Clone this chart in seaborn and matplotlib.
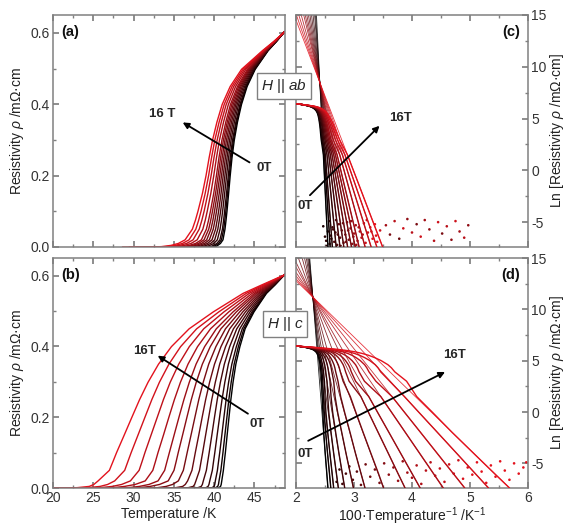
import numpy as np
import pandas as pd
import matplotlib
matplotlib.use("Agg")
import matplotlib.pyplot as plt
from matplotlib.ticker import MultipleLocator, FormatStrFormatter
import seaborn as sns

# magnetic fields (T), one curve each
FIELDS = [0, 0.5, 1, 2, 3, 4, 5, 6, 7, 8, 10, 12, 14, 16]
# ln(rho / uOhm cm) levels at which the temperatures below were read off
# (rho = 0.62, 0.60, 0.575, 0.55, 0.50, 0.45, 0.40, 0.35, 0.30, 0.25, 0.20, 0.15,
#  0.10, 0.075, 0.05, 0.02, 0.01 mOhm cm, then the log tail)
LN_LEVELS = [6.43, 6.40, 6.354, 6.31, 6.21, 6.109, 5.99, 5.858, 5.70, 5.521, 5.30, 5.011,
             4.61, 4.317, 3.91, 3.00, 2.30, 1.50, 0.00, -2.00, -4.00, -6.00, -7.40]

# H || ab : temperature (K) at each level, one row per field
T_AB = [
    [50.0, 48.7, 47.70, 46.70, 45.10, 44.10, 43.40, 42.90, 42.50, 42.22, 42.00, 41.80, 41.60, 41.48, 41.35, 41.10, 40.79, 40.45, 40.23, 39.95, 39.67, 39.39, 39.20],
    [50.0, 48.7, 47.69, 46.67, 45.03, 44.02, 43.30, 42.80, 42.39, 42.11, 41.88, 41.67, 41.46, 41.33, 41.19, 40.91, 40.57, 40.18, 39.91, 39.55, 39.20, 38.86, 38.62],
    [50.0, 48.7, 47.67, 46.64, 44.96, 43.93, 43.21, 42.70, 42.28, 41.99, 41.76, 41.54, 41.31, 41.18, 41.03, 40.72, 40.34, 39.91, 39.59, 39.17, 38.75, 38.35, 38.07],
    [50.0, 48.7, 47.65, 46.60, 44.85, 43.79, 43.04, 42.52, 42.10, 41.79, 41.55, 41.31, 41.06, 40.91, 40.74, 40.40, 39.96, 39.46, 39.05, 38.51, 37.99, 37.48, 37.14],
    [50.0, 48.7, 47.62, 46.55, 44.73, 43.64, 42.87, 42.34, 41.91, 41.60, 41.34, 41.09, 40.81, 40.64, 40.46, 40.07, 39.57, 39.01, 38.51, 37.87, 37.26, 36.66, 36.25],
    [50.0, 48.7, 47.60, 46.50, 44.61, 43.49, 42.70, 42.16, 41.72, 41.40, 41.13, 40.86, 40.56, 40.38, 40.18, 39.74, 39.18, 38.57, 38.00, 37.26, 36.55, 35.87, 35.40],
    [50.0, 48.7, 47.57, 46.45, 44.49, 43.34, 42.54, 41.98, 41.53, 41.20, 40.92, 40.63, 40.30, 40.11, 39.89, 39.41, 38.81, 38.15, 37.50, 36.67, 35.87, 35.11, 34.60],
    [50.0, 48.7, 47.55, 46.40, 44.37, 43.20, 42.37, 41.80, 41.34, 41.00, 40.71, 40.40, 40.05, 39.85, 39.61, 39.08, 38.44, 37.73, 37.01, 36.09, 35.22, 34.38, 33.82],
    [50.0, 48.7, 47.53, 46.35, 44.25, 43.05, 42.20, 41.63, 41.15, 40.80, 40.50, 40.18, 39.80, 39.58, 39.33, 38.75, 38.07, 37.32, 36.53, 35.53, 34.58, 33.69, 33.09],
    [50.0, 48.7, 47.50, 46.30, 44.13, 42.90, 42.03, 41.45, 40.96, 40.60, 40.29, 39.95, 39.55, 39.31, 39.04, 38.42, 37.70, 36.92, 36.07, 34.99, 33.98, 33.02, 32.38],
    [50.0, 48.7, 47.46, 46.22, 43.94, 42.67, 41.77, 41.17, 40.66, 40.29, 39.96, 39.59, 39.15, 38.90, 38.60, 37.90, 37.14, 36.31, 35.36, 34.17, 33.06, 32.02, 31.33],
    [50.0, 48.7, 47.42, 46.15, 43.76, 42.44, 41.50, 40.89, 40.37, 39.98, 39.63, 39.23, 38.76, 38.48, 38.15, 37.39, 36.59, 35.71, 34.68, 33.39, 32.19, 31.08, 30.34],
    [50.0, 48.7, 47.39, 46.07, 43.58, 42.22, 41.25, 40.62, 40.08, 39.68, 39.32, 38.89, 38.38, 38.08, 37.73, 36.89, 36.07, 35.17, 34.06, 32.68, 31.41, 30.23, 29.46],
    [50.0, 48.7, 47.35, 46.00, 43.40, 42.00, 41.00, 40.35, 39.80, 39.38, 39.00, 38.55, 38.00, 37.68, 37.30, 36.40, 35.56, 34.64, 33.45, 31.99, 30.66, 29.43, 28.62],
]

# H || c
T_C = [
    [50.0, 48.7, 47.60, 46.50, 44.95, 43.85, 43.20, 42.70, 42.35, 42.08, 41.85, 41.62, 41.40, 41.27, 41.15, 40.95, 40.88, 40.80, 40.60, 40.35, 39.95, 39.50, 39.20],
    [50.0, 48.7, 47.56, 46.44, 44.84, 43.70, 43.01, 42.49, 42.12, 41.83, 41.59, 41.34, 41.10, 40.97, 40.84, 40.61, 40.54, 40.45, 40.20, 39.80, 39.32, 38.80, 38.46],
    [50.0, 48.7, 47.52, 46.35, 44.69, 43.49, 42.76, 42.20, 41.80, 41.49, 41.22, 40.96, 40.70, 40.55, 40.41, 40.15, 40.08, 40.00, 39.75, 39.25, 38.70, 38.12, 37.74],
    [50.0, 48.7, 47.45, 46.22, 44.46, 43.18, 42.38, 41.77, 41.33, 40.98, 40.68, 40.38, 40.09, 39.93, 39.78, 39.46, 39.36, 39.25, 39.00, 38.40, 37.75, 37.08, 36.63],
    [50.0, 48.7, 47.36, 46.07, 44.20, 42.81, 41.93, 41.27, 40.78, 40.39, 40.05, 39.72, 39.39, 39.21, 39.04, 38.66, 38.54, 38.40, 38.00, 37.25, 36.50, 35.73, 35.21],
    [50.0, 48.7, 47.27, 45.89, 43.89, 42.40, 41.42, 40.69, 40.15, 39.71, 39.33, 38.95, 38.58, 38.38, 38.19, 37.74, 37.58, 37.40, 36.80, 35.85, 34.95, 34.05, 33.44],
    [50.0, 48.7, 47.16, 45.70, 43.56, 41.93, 40.85, 40.05, 39.44, 38.95, 38.52, 38.10, 37.67, 37.46, 37.25, 36.71, 36.42, 36.10, 35.25, 34.10, 33.07, 32.04, 31.35],
    [50.0, 48.7, 47.04, 45.48, 43.18, 41.41, 40.22, 39.33, 38.65, 38.10, 37.62, 37.14, 36.66, 36.42, 36.18, 35.56, 34.84, 34.05, 33.00, 31.66, 30.40, 29.22, 28.49],
    [50.0, 48.7, 46.91, 45.24, 42.76, 40.84, 39.52, 38.54, 37.78, 37.17, 36.63, 36.09, 35.55, 35.29, 35.02, 34.30, 33.22, 32.06, 30.80, 29.26, 27.86, 26.60, 25.77],
    [50.0, 48.7, 46.78, 45.01, 42.35, 40.27, 38.82, 37.76, 36.92, 36.25, 35.64, 35.04, 34.45, 34.15, 33.86, 33.04, 31.91, 30.72, 29.38, 27.75, 26.30, 24.99, 24.15],
    [50.0, 48.7, 46.61, 44.71, 41.82, 39.55, 37.94, 36.76, 35.82, 35.07, 34.39, 33.72, 33.04, 32.72, 32.39, 31.45, 30.20, 28.88, 27.44, 25.73, 24.22, 22.88, 22.03],
    [50.0, 48.7, 46.42, 44.36, 41.22, 38.71, 36.92, 35.61, 34.55, 33.71, 32.95, 32.18, 31.42, 31.06, 30.69, 29.61, 28.51, 27.35, 25.86, 24.10, 22.57, 21.22, 20.37],
    [50.0, 48.7, 46.21, 43.99, 40.58, 37.83, 35.84, 34.39, 33.21, 32.27, 31.42, 30.56, 29.71, 29.30, 28.90, 27.66, 26.78, 25.84, 24.31, 22.52, 20.98, 19.64, 18.80],
    [50.0, 48.7, 46.00, 43.60, 39.90, 36.90, 34.70, 33.10, 31.80, 30.75, 29.80, 28.85, 27.90, 27.45, 27.00, 25.60, 25.07, 24.50, 23.00, 21.30, 19.77, 18.44, 17.60],
]

# Arrhenius fit lines: common crossing point and x where each line hits the bottom (ln = -7.4)
FIT_PIVOT_AB = (2.41, 8.5)
FIT_XEND_AB = [2.551, 2.589, 2.627, 2.693, 2.759, 2.825, 2.890, 2.957, 3.022, 3.088, 3.192, 3.296, 3.395, 3.494]
FIT_PIVOT_C = (2.29, 11.2)
FIT_XEND_C = [2.55, 2.60, 2.65, 2.73, 2.84, 2.99, 3.19, 3.51, 3.88, 4.14, 4.54, 4.91, 5.32, 5.68]
FIT_YBOT = -7.4

# noise floor points (100/T, ln rho, shade 0=black..1=red)
NOISE_AB_X = [2.52, 2.55, 2.58, 2.60, 2.63, 2.66, 2.68, 2.71, 2.74, 2.76, 2.79, 2.82, 2.85, 2.88, 2.91,
              2.94, 2.97, 3.00, 3.03, 3.06, 3.10, 3.13, 3.17, 3.20, 3.24, 3.28, 3.32, 3.36, 3.40, 3.45,
              3.55, 3.62, 3.70, 3.78, 3.85, 3.92, 4.00, 4.08, 4.15, 4.22, 4.30, 4.38, 4.45, 4.52, 4.60,
              4.68, 4.75, 4.82, 4.90, 4.97,
              2.47, 2.50, 2.53, 2.57, 2.61, 2.64, 2.69, 2.72, 2.77, 2.81, 2.86, 2.90, 2.95, 2.99, 3.04,
              3.08, 3.15, 3.22, 3.30, 3.38]
NOISE_AB_Y = [-6.8, -5.9, -7.1, -6.3, -5.5, -6.9, -6.0, -7.2, -5.2, -6.5, -5.8, -7.0, -6.2, -5.0, -6.7,
              -5.6, -7.1, -6.1, -5.3, -6.8, -5.9, -6.5, -5.1, -7.0, -6.0, -5.5, -6.6, -5.2, -6.9, -5.8,
              -5.3, -6.2, -4.9, -6.6, -5.6, -4.7, -6.0, -5.2, -6.4, -4.8, -5.7, -6.8, -5.0, -6.1, -5.4,
              -6.7, -4.9, -5.9, -6.5, -5.3,
              -5.4, -6.4, -7.3, -4.9, -6.6, -5.7, -4.8, -6.2, -7.3, -5.1, -6.9, -5.8, -4.9, -6.4, -7.2,
              -5.5, -6.2, -4.8, -5.9, -6.3]
NOISE_AB_S = [0.1, 0.1, 0.2, 0.15, 0.2, 0.3, 0.25, 0.3, 0.4, 0.35, 0.45, 0.4, 0.5, 0.55, 0.5,
              0.6, 0.6, 0.7, 0.7, 0.75, 0.8, 0.8, 0.85, 0.9, 0.9, 0.95, 1.0, 1.0, 1.0, 0.9,
              0.7, 0.5, 0.8, 0.4, 0.9, 0.6, 0.8, 0.5, 0.9, 0.7, 0.6, 0.8, 0.9, 0.5, 0.8,
              0.6, 0.9, 0.7, 0.8, 0.6,
              0.0, 0.05, 0.1, 0.15, 0.2, 0.25, 0.3, 0.35, 0.4, 0.45, 0.5, 0.55, 0.6, 0.65, 0.7,
              0.75, 0.8, 0.85, 0.9, 0.95]
NOISE_C_X = [2.70, 2.75, 2.80, 2.86, 2.92, 2.98, 3.05, 3.12, 3.20, 3.28, 3.36, 3.44, 3.52, 3.60, 3.68,
             3.76, 3.84, 3.92, 4.00, 4.08, 4.16, 4.24, 4.32, 4.40, 4.48, 4.56, 4.64, 4.72, 4.80, 4.88,
             4.96, 5.04, 5.12, 5.20, 5.28, 5.36, 5.44, 5.52, 5.60, 5.68, 5.76, 5.84, 5.92, 5.97]
NOISE_C_Y = [-6.8, -5.6, -7.0, -6.0, -5.3, -6.6, -5.8, -7.1, -5.1, -6.3, -5.6, -6.9, -5.0, -6.1, -5.4,
             -6.7, -4.8, -5.9, -6.4, -5.2, -7.0, -5.7, -4.9, -6.2, -5.5, -6.8, -5.1, -6.0, -4.7, -6.5,
             -5.4, -6.1, -4.9, -5.8, -6.9, -5.2, -6.3, -4.8, -5.7, -6.6, -5.0, -6.0, -5.4, -4.9]
NOISE_C_S = [0.1, 0.15, 0.2, 0.25, 0.3, 0.3, 0.35, 0.4, 0.45, 0.45, 0.5, 0.5, 0.55, 0.6, 0.6,
             0.65, 0.65, 0.7, 0.7, 0.75, 0.75, 0.8, 0.8, 0.8, 0.85, 0.85, 0.9, 0.9, 0.9, 0.95,
             0.95, 1.0, 1.0, 1.0, 1.0, 1.0, 1.0, 1.0, 1.0, 1.0, 1.0, 1.0, 1.0, 1.0]

sns.set_theme(style="ticks")
plt.rcParams.update({
    "font.family": ["Liberation Sans", "DejaVu Sans"],
    "mathtext.fontset": "custom",
    "mathtext.rm": "Liberation Sans",
    "mathtext.it": "Liberation Sans:italic",
    "mathtext.bf": "Liberation Sans:bold",
    "axes.unicode_minus": False,
    "axes.edgecolor": "#808080",
    "axes.linewidth": 1.1,
    "xtick.color": "#808080", "ytick.color": "#808080",
    "xtick.labelcolor": "#333333", "ytick.labelcolor": "#333333",
    "xtick.direction": "in", "ytick.direction": "in",
    "xtick.major.size": 4, "ytick.major.size": 4,
    "xtick.minor.size": 2, "ytick.minor.size": 2,
    "xtick.major.pad": 2.5, "ytick.major.pad": 2.5,
    "xtick.labelsize": 10, "ytick.labelsize": 10,
    "axes.labelsize": 10, "axes.labelcolor": "#222222",
})

labels = [f"{h:g}T" for h in FIELDS]
pal = sns.blend_palette(["#000000", "#6e0a10", "#e3121d"], n_colors=len(FIELDS))
colors = dict(zip(labels, pal))
cmap = sns.blend_palette(["#1a0000", "#7a0c12", "#e3121d"], as_cmap=True)


def long_table(rows):
    recs = []
    for lab, temps in zip(labels, rows):
        for t, ln in zip(temps, LN_LEVELS):
            recs.append({"field": lab, "T": t, "ln": ln,
                         "rho": np.exp(ln) / 1000.0, "inv": 100.0 / t})
    return pd.DataFrame(recs)


df_ab = long_table(T_AB)
df_c = long_table(T_C)

W, H = 569, 529
fig = plt.figure(figsize=(W / 100, H / 100), dpi=100)
ax_a = fig.add_axes([53 / W, 1 - 247 / H, 232 / W, 232 / H])
ax_b = fig.add_axes([53 / W, 1 - 488 / H, 232 / W, 230 / H])
ax_c = fig.add_axes([296 / W, 1 - 247 / H, 232 / W, 232 / H])
ax_d = fig.add_axes([296 / W, 1 - 488 / H, 232 / W, 230 / H])

for ax, df in [(ax_a, df_ab), (ax_b, df_c)]:
    sns.lineplot(data=df, x="T", y="rho", hue="field", hue_order=labels, palette=colors,
                 units="field", estimator=None, sort=False, legend=False, lw=1.0, ax=ax)
    ax.set_xlim(20, 48.8)
    ax.set_ylim(0, 0.65)
    ax.xaxis.set_major_locator(MultipleLocator(5))
    ax.xaxis.set_minor_locator(MultipleLocator(2.5))
    ax.yaxis.set_major_locator(MultipleLocator(0.2))
    ax.yaxis.set_minor_locator(MultipleLocator(0.1))
    ax.yaxis.set_major_formatter(FormatStrFormatter("%.1f"))
    ax.tick_params(which="both", top=True, right=True)
    ax.set_ylabel(r"Resistivity $\rho$ /mΩ·cm", labelpad=3)
    ax.set_xlabel("")

for ax, df, pivot, xend, nx, ny, ns in [
        (ax_c, df_ab, FIT_PIVOT_AB, FIT_XEND_AB, NOISE_AB_X, NOISE_AB_Y, NOISE_AB_S),
        (ax_d, df_c, FIT_PIVOT_C, FIT_XEND_C, NOISE_C_X, NOISE_C_Y, NOISE_C_S)]:
    px, py = pivot
    for lab, xe in zip(labels, xend):
        slope = (FIT_YBOT - py) / (xe - px)
        xs = np.array([2.0, xe])
        ax.plot(xs, py + slope * (xs - px), color=colors[lab], lw=0.6, alpha=0.85, zorder=1)
    ax.scatter(nx, ny, c=ns, cmap=cmap, vmin=0, vmax=1, s=3.5, lw=0, zorder=2)
    sns.lineplot(data=df, x="inv", y="ln", hue="field", hue_order=labels, palette=colors,
                 units="field", estimator=None, sort=False, legend=False, lw=1.0, ax=ax, zorder=3)
    ax.set_xlim(2, 6)
    ax.set_ylim(-7.4, 15)
    ax.xaxis.set_major_locator(MultipleLocator(1))
    ax.xaxis.set_minor_locator(MultipleLocator(0.5))
    ax.yaxis.set_major_locator(MultipleLocator(5))
    ax.yaxis.set_minor_locator(MultipleLocator(2.5))
    ax.tick_params(which="both", top=True, right=True, left=True,
                   labelleft=False, labelright=True)
    ax.yaxis.set_label_position("right")
    ax.set_ylabel(r"Ln [Resistivity $\rho$ /mΩ·cm]", labelpad=1)
    ax.set_xlabel("")

ax_a.tick_params(labelbottom=False)
ax_c.tick_params(labelbottom=False)
ax_b.set_xlabel("Temperature /K", labelpad=1)
ax_d.set_xlabel(r"100·Temperature$^{-1}$ /K$^{-1}$", labelpad=0)

# panel letters
for ax, txt, x, ha in [(ax_a, "(a)", 0.035, "left"), (ax_b, "(b)", 0.035, "left"),
                       (ax_c, "(c)", 0.965, "right"), (ax_d, "(d)", 0.965, "right")]:
    ax.text(x, 0.925, txt, transform=ax.transAxes, ha=ha, va="center",
            fontsize=10.5, fontweight="bold", color="#111111")

# field arrows
arrow = dict(arrowstyle="-|>", color="black", lw=1.3, mutation_scale=9, shrinkA=0, shrinkB=0)
for ax, tail, head, hi_pos, hi_txt, lo_pos in [
        (ax_a, (44.4, 0.237), (36.1, 0.349), (33.6, 0.374), "16 T", (46.2, 0.22)),
        (ax_b, (44.2, 0.21), (33.0, 0.374), (31.4, 0.388), "16T", (45.4, 0.182)),
        (ax_c, (2.24, -2.4), (3.44, 4.3), (3.8, 5.1), "16T", (2.15, -3.4)),
        (ax_d, (2.21, -2.8), (4.57, 3.9), (4.74, 5.6), "16T", (2.16, -4.1))]:
    ax.annotate("", xy=head, xytext=tail, arrowprops=arrow, zorder=5)
    ax.text(*hi_pos, hi_txt, ha="center", va="center", fontsize=9.5, fontweight="bold", zorder=5)
    ax.text(*lo_pos, "0T", ha="center", va="center", fontsize=9.5, fontweight="bold", zorder=5)

box = dict(boxstyle="square,pad=0.25", fc="white", ec="#808080", lw=1.0)
fig.text(284 / W, 1 - 86 / H, r"$H$ || $ab$", ha="center", va="center", fontsize=11, bbox=box)
fig.text(285 / W, 1 - 324 / H, r"$H$ || $c$", ha="center", va="center", fontsize=11, bbox=box)

fig.savefig("out.png", dpi=100)
